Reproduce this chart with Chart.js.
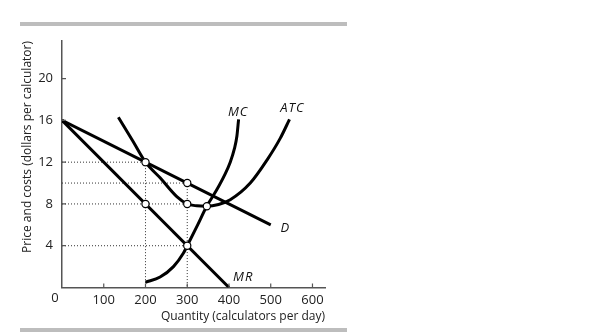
<!DOCTYPE html>
<html>
<head>
<meta charset="utf-8">
<script src="https://cdn.jsdelivr.net/npm/chart.js@4.4.1/dist/chart.umd.min.js"></script>
<style>
  html, body { margin: 0; padding: 0; background: #fff; }
  canvas { display: block; }
</style>
</head>
<body>
<canvas id="monopoly" width="615" height="336"></canvas>
<script>
// Quantity in calculators per day, prices/costs in dollars per calculator
const demandQty = [0, 500];
const demandPrice = [16, 6];
const mrQty = [0, 400];
const mrPrice = [16, 0];
const atcQty = [135, 170, 200, 235, 275, 300, 323, 347, 375, 403, 451, 491, 523, 545];
const atcCost = [16.3, 14.0, 12, 10.5, 8.7, 8.0, 7.82, 7.78, 7.95, 8.4, 10.0, 12.2, 14.3, 16.1];
const mcQty = [200, 235, 267, 291, 300, 325, 347, 370, 390, 403, 413, 419, 423];
const mcCost = [0.5, 1.0, 2.0, 3.3, 4, 6, 7.8, 9.3, 10.8, 12.0, 13.3, 14.5, 16.1];

// open circles at the key points
const markQty = [200, 300, 200, 300, 347, 300];
const markPrice = [12, 10, 8, 8, 7.78, 4];

// dotted guides: horizontal from the price axis, vertical down to the quantity axis
const hGuideQty = [200, 300, 300, 300];
const hGuidePrice = [12, 10, 8, 4];
const vGuideQty = [200, 300];
const vGuidePrice = [12, 10];

const xTicks = [100, 200, 300, 400, 500, 600];
const yTicks = [4, 8, 12, 16, 20];

const curveLabels = [
  { text: 'MC', x: 422, y: 16.8 },
  { text: 'ATC', x: 552, y: 17.2 },
  { text: 'D', x: 535, y: 5.7 },
  { text: 'MR', x: 434, y: 0.95 },
];

const FONT = '"Open Sans", "DejaVu Sans", sans-serif';
const pts = (xs, ys) => xs.map((x, i) => ({ x: x, y: ys[i] }));

const curve = (data, extra) => Object.assign({
  data: data,
  showLine: true,
  borderColor: '#000',
  borderWidth: 3,
  pointRadius: 0,
  fill: false,
  order: 1,
}, extra || {});

const guide = (data) => ({
  data: data,
  showLine: true,
  borderColor: '#333',
  borderWidth: 1,
  borderDash: [1, 2],
  pointRadius: 0,
  order: 2,
});

const datasets = [
  {
    data: pts(markQty, markPrice),
    pointRadius: 3.6,
    pointBackgroundColor: '#fff',
    pointBorderColor: '#000',
    pointBorderWidth: 1.2,
    showLine: false,
    order: 0,
  },
  curve(pts(demandQty, demandPrice)),
  curve(pts(mrQty, mrPrice)),
  curve(pts(atcQty, atcCost), { cubicInterpolationMode: 'monotone' }),
  curve(pts(mcQty, mcCost), { cubicInterpolationMode: 'monotone' }),
];
hGuideQty.forEach((q, i) => datasets.push(guide([{ x: 0, y: hGuidePrice[i] }, { x: q, y: hGuidePrice[i] }])));
vGuideQty.forEach((q, i) => datasets.push(guide([{ x: q, y: vGuidePrice[i] }, { x: q, y: 0 }])));

// rules above and below, inner tick marks, curve names and the origin label
const decorations = {
  id: 'decorations',
  beforeDraw(chart) {
    const ctx = chart.ctx;
    ctx.save();
    ctx.fillStyle = '#bdbdbd';
    ctx.fillRect(20, 22, 327, 4);
    ctx.fillRect(20, 328, 327, 4);
    ctx.restore();
  },
  afterDraw(chart) {
    const ctx = chart.ctx;
    const xs = chart.scales.x;
    const ys = chart.scales.y;
    const x0 = xs.getPixelForValue(0);
    const y0 = ys.getPixelForValue(0);
    ctx.save();
    ctx.strokeStyle = '#555';
    ctx.lineWidth = 1.2;
    ctx.beginPath();
    xTicks.forEach(v => {
      const px = xs.getPixelForValue(v);
      ctx.moveTo(px, y0);
      ctx.lineTo(px, y0 - 4);
    });
    yTicks.forEach(v => {
      const py = ys.getPixelForValue(v);
      ctx.moveTo(x0, py);
      ctx.lineTo(x0 + 4, py);
    });
    ctx.stroke();

    ctx.fillStyle = '#222';
    ctx.font = '13px ' + FONT;
    ctx.textAlign = 'center';
    ctx.textBaseline = 'middle';
    ctx.fillText('0', x0 - 7, y0 + 11);

    ctx.fillStyle = '#111';
    ctx.font = 'italic 13px ' + FONT;
    ctx.letterSpacing = '1px';
    curveLabels.forEach(l => {
      ctx.fillText(l.text, xs.getPixelForValue(l.x), ys.getPixelForValue(l.y));
    });
    ctx.restore();
  },
};

new Chart(document.getElementById('monopoly'), {
  type: 'scatter',
  data: { datasets: datasets },
  options: {
    responsive: false,
    animation: false,
    layout: { padding: { left: 0, top: 41, right: 290, bottom: 0 } },
    plugins: {
      legend: { display: false },
      tooltip: { enabled: false },
    },
    scales: {
      x: {
        type: 'linear',
        min: 0,
        max: 630,
        afterBuildTicks: (s) => { s.ticks = xTicks.map(v => ({ value: v })); },
        afterFit: (s) => { s.height = 48.5; },
        grid: { display: false, drawTicks: false },
        border: { display: true, color: '#555', width: 1.5 },
        ticks: { color: '#222', padding: 5, font: { family: FONT, size: 13 } },
        title: {
          display: true,
          text: 'Quantity (calculators per day)',
          align: 'end',
          color: '#222',
          font: { family: FONT, size: 12 },
          padding: { top: 0, bottom: 12 },
        },
      },
      y: {
        type: 'linear',
        min: 0,
        max: 23.6,
        afterBuildTicks: (s) => { s.ticks = yTicks.map(v => ({ value: v })); },
        afterFit: (s) => { s.width = 62; },
        grid: { display: false, drawTicks: false },
        border: { display: true, color: '#555', width: 1.5 },
        ticks: { color: '#222', padding: 9, font: { family: FONT, size: 13 } },
        title: {
          display: true,
          text: 'Price and costs (dollars per calculator)',
          align: 'end',
          color: '#222',
          font: { family: FONT, size: 12 },
          padding: { top: 20, bottom: 0 },
        },
      },
    },
  },
  plugins: [decorations],
});
</script>
</body>
</html>
